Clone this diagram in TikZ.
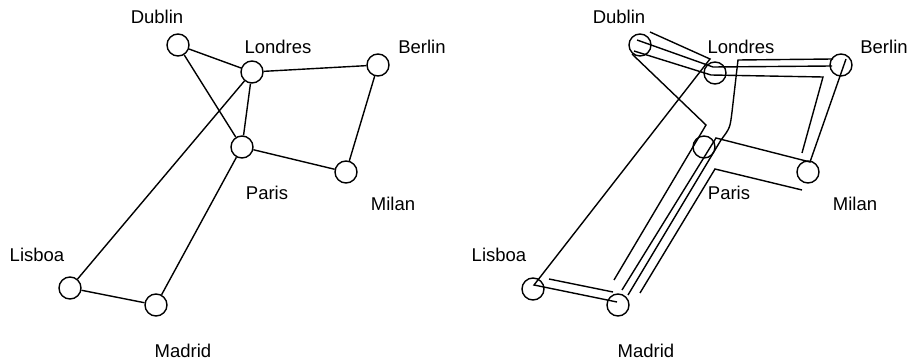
\documentclass[tikz,border=0pt]{standalone}
\usepackage{fontspec}
\setmainfont{Liberation Sans}
\usetikzlibrary{positioning}
\begin{document}
\begin{tikzpicture}[x=1pt,y=-1pt,line width=1.4pt,
  city/.style={circle,draw=black,minimum size=22pt,inner sep=0pt},
  town/.style={font=\fontsize{18.5}{20}\selectfont,inner sep=0pt}]
\useasboundingbox (0,0) rectangle (911,363);
% left graph
\node[city,fill=white] (dublin) at (178,45) {};
\node[city,fill=white] (londres) at (252,72) {};
\node[city,fill=white] (berlin) at (378,65) {};
\node[city,fill=white] (paris) at (242,147) {};
\node[city,fill=white] (milan) at (346,172) {};
\node[city,fill=white] (lisboa) at (70,288) {};
\node[city,fill=white] (madrid) at (156,305) {};
\node[town] (tdublin) at (157,17) {Dublin};
\node[town] (tlondres) at (278,47) {Londres};
\node[town] (tberlin) at (422,47) {Berlin};
\node[town] (tparis) at (267,193) {Paris};
\node[town] (tmilan) at (393,204) {Milan};
\node[town] (tlisboa) at (37,255) {Lisboa};
\node[town] (tmadrid) at (183,351) {Madrid};
\draw [black](dublin)--(londres);
\draw [black](dublin)--(paris);
\draw [black](londres)--(berlin);
\draw [black](londres)--(paris);
\draw [black](londres)--(lisboa);
\draw [black](berlin)--(milan);
\draw [black](paris)--(milan);
\draw [black](paris)--(madrid);
\draw [black](lisboa)--(madrid);
% right picture
\node[city] (dublin2) at (640,45) {};
\node[city] (londres2) at (715,73) {};
\node[city] (berlin2) at (841,65) {};
\node[city] (paris2) at (704,147) {};
\node[city] (milan2) at (808,172) {};
\node[city] (lisboa2) at (533,289) {};
\node[city] (madrid2) at (618,305) {};
\node[town] (tdublin2) at (619,17) {Dublin};
\node[town] (tlondres2) at (741,47) {Londres};
\node[town] (tberlin2) at (884,47) {Berlin};
\node[town] (tparis2) at (729,193) {Paris};
\node[town] (tmilan2) at (855,204) {Milan};
\node[town] (tlisboa2) at (499,255) {Lisboa};
\node[town] (tmadrid2) at (646,351) {Madrid};
\draw [black](650,32)--(710,59)--(534,285)--(617,302);
\draw [black](637,40)--(713,67)--(832,66);
\draw [black](634,51)--(711,75)--(823,77)--(802,153);
\draw [black](632,54)--(706,125)--(614,280);
\draw [black](833,59)--(738,60)--(732,112) .. controls (730,128) .. (721,140)--(628,295);
\draw [black](846,59)--(810,162)--(716,138)--(622,290);
\draw [black](802,190)--(715,169)--(640,293);
\draw [black](549,279)--(613,292);
\end{tikzpicture}
\end{document}
